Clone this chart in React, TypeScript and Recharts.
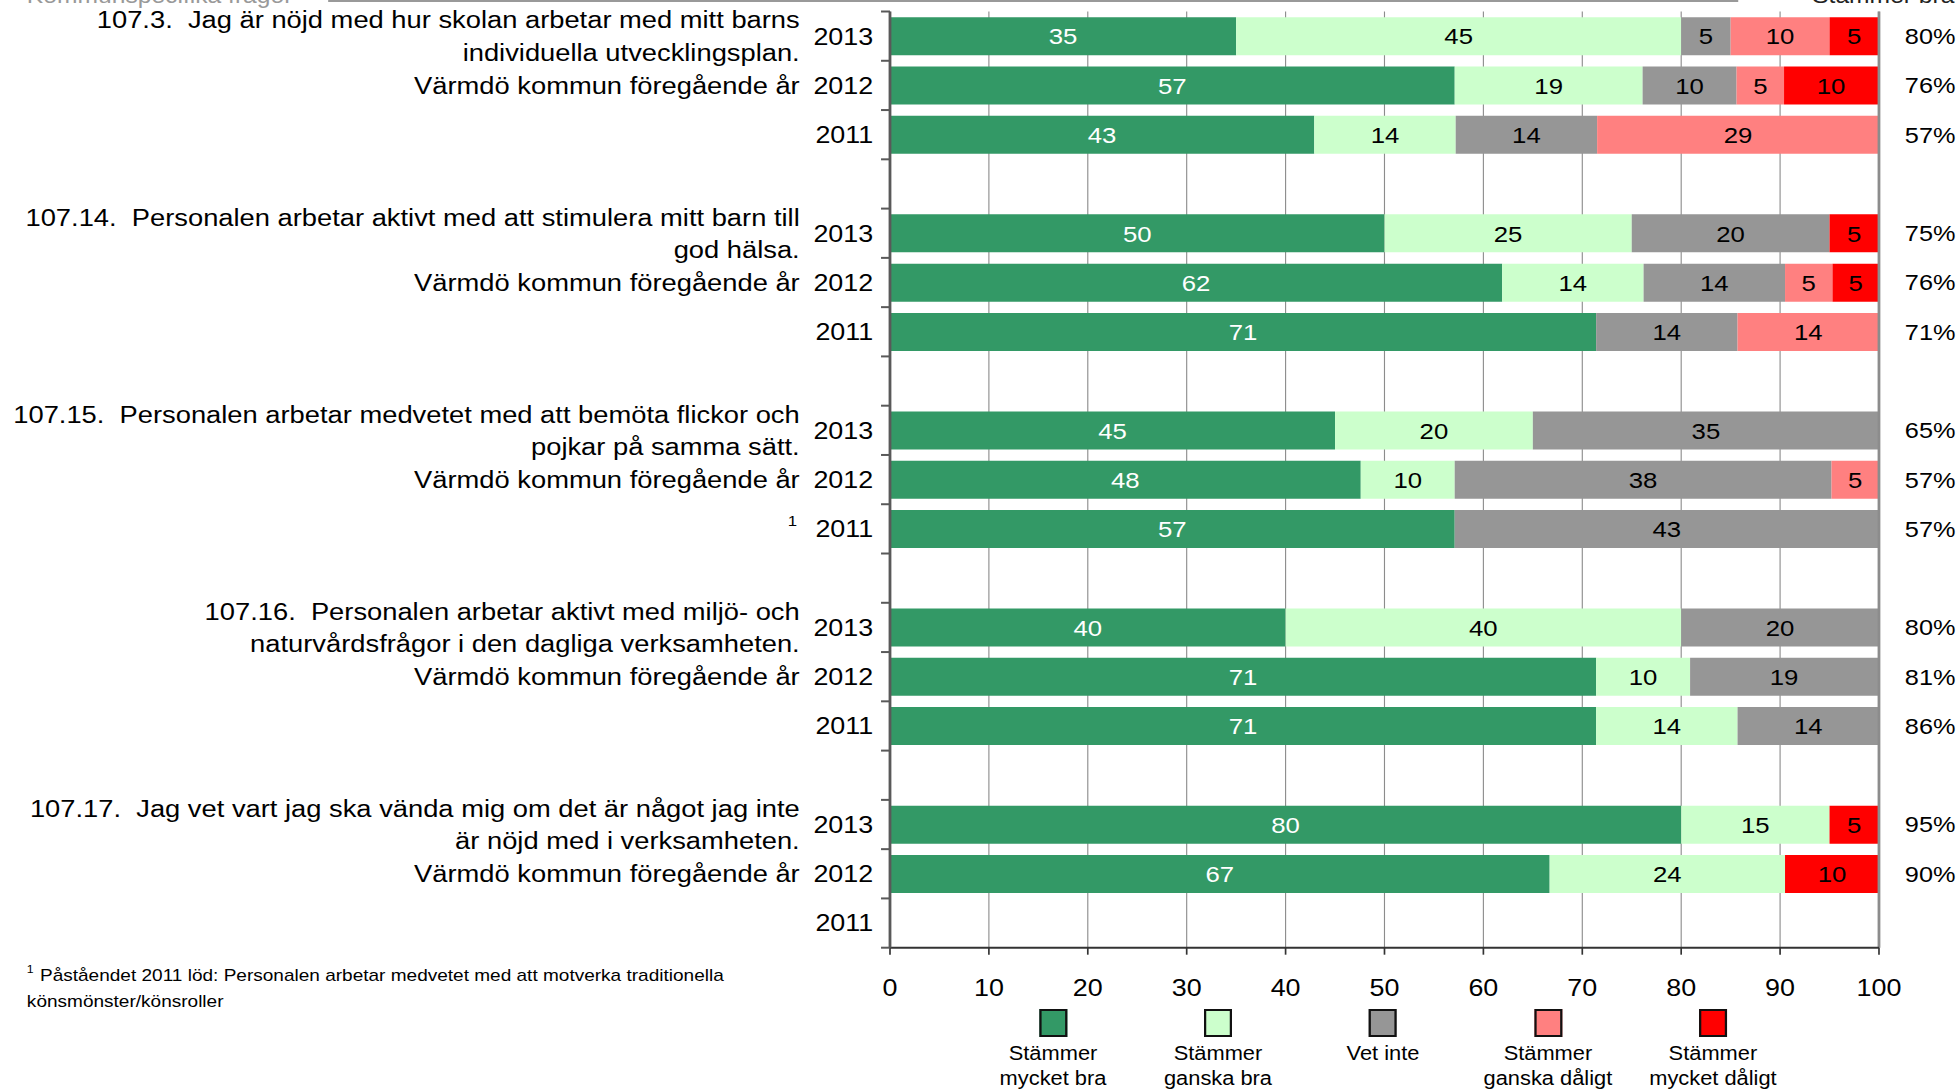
import React from "react";
import {
  BarChart,
  Bar,
  XAxis,
  YAxis,
  CartesianGrid,
  LabelList,
  Legend,
  ReferenceLine,
} from "recharts";

// the source picture is stretched horizontally, so the chart is drawn narrower and scaled in x
const STRETCH = 1.12;
const PAGE_W = 1959;
const PAGE_H = 1089;
const W = PAGE_W / STRETCH;
const H = PAGE_H;
const FONT = '"Liberation Sans", Arial, sans-serif';

const questions = [
  ["107.3.  Jag är nöjd med hur skolan arbetar med mitt barns", "individuella utvecklingsplan."],
  ["107.14.  Personalen arbetar aktivt med att stimulera mitt barn till", "god hälsa."],
  ["107.15.  Personalen arbetar medvetet med att bemöta flickor och", "pojkar på samma sätt."],
  ["107.16.  Personalen arbetar aktivt med miljö- och", "naturvårdsfrågor i den dagliga verksamheten."],
  ["107.17.  Jag vet vart jag ska vända mig om det är något jag inte", "är nöjd med i verksamheten."],
];
const years = ["2013", "2012", "2011"];
const compareLabel = "Värmdö kommun föregående år";
const footnoteQuestion = 2;
const footnoteYear = "2011";

const seriesNames = [
  "Stämmer mycket bra",
  "Stämmer ganska bra",
  "Vet inte",
  "Stämmer ganska dåligt",
  "Stämmer mycket dåligt",
];
const seriesColors = ["#339966", "#CCFFCC", "#969696", "#FF8080", "#FF0000"];
const labelColors = ["#ffffff", "#000000", "#000000", "#000000", "#000000"];

// one value per question and year (2013, 2012, 2011)
const mycketBra = [35, 57.1, 42.9, 50, 61.9, 71.4, 45, 47.6, 57.1, 40, 71.4, 71.4, 80, 66.7, null];
const ganskaBra = [45, 19.0, 14.3, 25, 14.3, null, 20, 9.5, null, 40, 9.5, 14.3, 15, 23.8, null];
const vetInte = [5, 9.5, 14.3, 20, 14.3, 14.3, 35, 38.1, 42.9, 20, 19.0, 14.3, null, null, null];
const ganskaDaligt = [10, 4.8, 28.6, null, 4.8, 14.3, null, 4.8, null, null, null, null, null, null, null];
const mycketDaligt = [5, 9.5, null, 5, 4.8, null, null, null, null, null, null, null, 5, 9.5, null];
const positiveShare = [80, 76, 57, 75, 76, 71, 65, 57, 57, 80, 81, 86, 95, 90, null];
const seriesValues = [mycketBra, ganskaBra, vetInte, ganskaDaligt, mycketDaligt];

const xTicks = [0, 10, 20, 30, 40, 50, 60, 70, 80, 90, 100];

const footnote = [
  "Påståendet 2011 löd: Personalen arbetar medvetet med att motverka traditionella",
  "könsmönster/könsroller",
];

const rows: any[] = [];
questions.forEach((q, g) => {
  years.forEach((yr, i) => {
    const k = g * 3 + i;
    const row: any = { key: `${g}-${yr}`, group: g, pos: i, year: yr, pct: positiveShare[k] };
    seriesValues.forEach((vals, s) => {
      row[`s${s}`] = vals[k];
    });
    rows.push(row);
  });
  if (g < questions.length - 1) rows.push({ key: `${g}-gap`, group: g, pos: 3 });
});

const MARGIN = { top: 11.5, right: 0, bottom: 81.3, left: 0 };
const X_AXIS_H = 60;
const PLOT_TOP = MARGIN.top;
const PLOT_BOTTOM = H - MARGIN.bottom - X_AXIS_H;
const BAND = (PLOT_BOTTOM - PLOT_TOP) / rows.length;
const LEFT_AXIS_W = 890 / STRETCH;
const RIGHT_AXIS_W = W - 1879 / STRETCH;

const rowByKey: Record<string, any> = {};
rows.forEach((r) => (rowByKey[r.key] = r));

function RowTick({ x, y, payload }: any) {
  const row = rowByKey[payload.value];
  if (!row) return null;
  const last = row.key === rows[rows.length - 1].key;
  const txt = { fontFamily: FONT, fontSize: 24, fill: "#000", whiteSpace: "pre" as const };
  const qTxt = { ...txt, fontSize: 24.4 };
  return (
    <g>
      <line x1={x - 8} x2={x} y1={y - BAND / 2} y2={y - BAND / 2} stroke="#595959" strokeWidth={2} />
      {last && <line x1={x - 8} x2={x} y1={y + BAND / 2} y2={y + BAND / 2} stroke="#595959" strokeWidth={2} />}
      {row.year && (
        <text x={x - 15} y={y} dy="0.35em" textAnchor="end" style={txt}>
          {row.year}
        </text>
      )}
      {row.pos === 0 &&
        questions[row.group].map((line, i) => (
          <text key={i} x={x - 80.6} y={y - 16.25 + i * 32.5} dy="0.35em" textAnchor="end" style={qTxt}>
            {line}
          </text>
        ))}
      {row.pos === 1 && (
        <text x={x - 80.6} y={y} dy="0.35em" textAnchor="end" style={qTxt}>
          {compareLabel}
        </text>
      )}
      {row.group === footnoteQuestion && row.year === footnoteYear && (
        <text x={x - 83} y={y - 3} textAnchor="end" style={{ ...txt, fontSize: 15 }}>
          1
        </text>
      )}
    </g>
  );
}

function PctTick({ x, y, payload }: any) {
  const row = rowByKey[payload.value];
  if (!row || row.pct == null) return null;
  return (
    <text x={x + 68.3} y={y} dy="0.35em" textAnchor="end" style={{ fontFamily: FONT, fontSize: 22.6, fill: "#000" }}>
      {`${row.pct}%`}
    </text>
  );
}

const LEGEND_ITEM_W = 147.3;

function LegendContent({ payload }: any) {
  const items = [...(payload || [])].sort(
    (a: any, b: any) => seriesNames.indexOf(a.value) - seriesNames.indexOf(b.value)
  );
  return (
    <div style={{ display: "flex", fontFamily: FONT }}>
      {items.map((item: any) => (
        <div
          key={item.value}
          style={{ width: LEGEND_ITEM_W, display: "flex", flexDirection: "column", alignItems: "center" }}
        >
          <div
            style={{
              width: 25,
              height: 28,
              boxSizing: "border-box",
              border: "2px solid #111",
              background: item.color,
            }}
          />
          <div
            style={{
              fontSize: 19.5,
              lineHeight: "25px",
              marginTop: 3.5,
              textAlign: "center",
              whiteSpace: "pre-line",
              color: "#000",
            }}
          >
            {String(item.value).replace(/^Stämmer /, "Stämmer\n")}
          </div>
        </div>
      ))}
    </div>
  );
}

export default function App() {
  return (
    <div
      style={{
        position: "absolute",
        left: 0,
        top: 0,
        width: PAGE_W,
        height: PAGE_H,
        overflow: "hidden",
        background: "#fff",
      }}
    >
      <div
        style={{
          position: "relative",
          width: W,
          height: H,
          transform: `scaleX(${STRETCH})`,
          transformOrigin: "0 0",
          fontFamily: FONT,
        }}
      >
        <BarChart width={W} height={H} data={rows} layout="vertical" margin={MARGIN} barCategoryGap="11.7%">
          <CartesianGrid yAxisId="left" horizontal={false} stroke="#8c8c8c" strokeWidth={1} />
          <XAxis
            type="number"
            domain={[0, 100]}
            allowDataOverflow
            ticks={xTicks}
            height={X_AXIS_H}
            axisLine={{ stroke: "#333", strokeWidth: 2 }}
            tickLine={{ stroke: "#333", strokeWidth: 1.5 }}
            tickSize={7}
            tickMargin={24}
            tick={{ fontSize: 24, fill: "#000", fontFamily: FONT }}
          />
          <YAxis
            yAxisId="left"
            type="category"
            dataKey="key"
            width={LEFT_AXIS_W}
            interval={0}
            tickLine={false}
            tickSize={0}
            tickMargin={0}
            axisLine={{ stroke: "#595959", strokeWidth: 2.5 }}
            tick={(p: any) => <RowTick {...p} />}
          />
          <YAxis
            yAxisId="right"
            orientation="right"
            type="category"
            dataKey="key"
            width={RIGHT_AXIS_W}
            interval={0}
            tickLine={false}
            tickSize={0}
            tickMargin={0}
            axisLine={false}
            tick={(p: any) => <PctTick {...p} />}
          />
          <Legend
            layout="vertical"
            align="center"
            verticalAlign="middle"
            itemSorter={(item: any) => seriesNames.indexOf(item.value)}
            wrapperStyle={{
              position: "absolute",
              left: 940.2 - LEGEND_ITEM_W / 2,
              top: 1009,
              width: LEGEND_ITEM_W * 5,
              height: 80,
            }}
            content={(p: any) => <LegendContent {...p} />}
          />
          {seriesNames.map((name, s) => (
            <Bar
              key={name}
              yAxisId="left"
              dataKey={`s${s}`}
              name={name}
              stackId="a"
              fill={seriesColors[s]}
              isAnimationActive={false}
            >
              <LabelList
                dataKey={`s${s}`}
                position="center"
                fill={labelColors[s]}
                fontSize={23}
                fontFamily={FONT}
                formatter={(v: any) => (v ? Math.round(v) : "")}
              />
            </Bar>
          ))}
          <ReferenceLine yAxisId="left" x={100} stroke="#8c8c8c" strokeWidth={2.5} />
        </BarChart>
        <svg
          width={W}
          height={H}
          style={{ position: "absolute", left: 0, top: 0, pointerEvents: "none" }}
        >
          <line x1={293} x2={1552} y1={0.5} y2={0.5} stroke="#999" strokeWidth={3} />
          <text x={24} y={2.5} style={{ fontFamily: FONT, fontSize: 22, fill: "#999" }}>
            Kommunspecifika frågor
          </text>
          <text x={1618} y={2.5} style={{ fontFamily: FONT, fontSize: 22, fill: "#222" }}>
            Stämmer bra
          </text>
          <text x={24} y={973} style={{ fontFamily: FONT, fontSize: 11, fill: "#000" }}>
            1
          </text>
          {footnote.map((line, i) => (
            <text
              key={i}
              x={i === 0 ? 35.7 : 24}
              y={981 + i * 26}
              style={{ fontFamily: FONT, fontSize: 17, fill: "#000" }}
            >
              {line}
            </text>
          ))}
        </svg>
      </div>
    </div>
  );
}
